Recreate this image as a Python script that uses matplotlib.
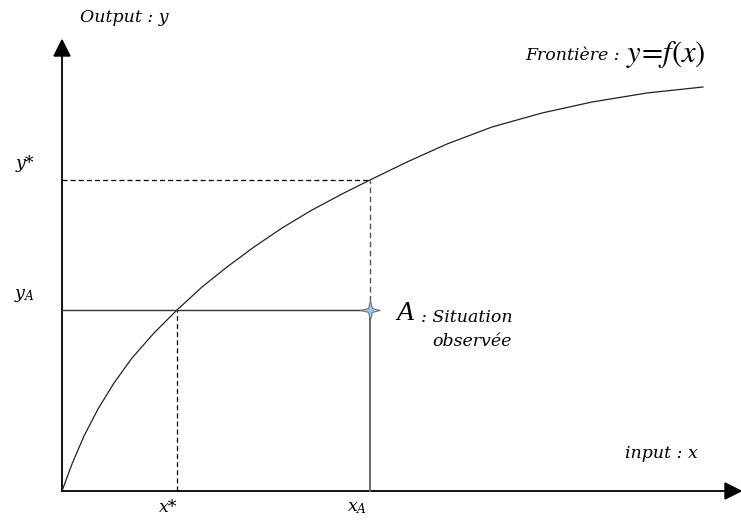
import matplotlib.pyplot as plt
from matplotlib.path import Path

# frontier y = f(x) (units = pixels from origin)
front_x = [0, 10, 22, 36, 52, 70, 92, 115, 140, 165, 192, 220, 250, 280,
           308, 345, 385, 430, 480, 530, 585, 641]
front_y = [0, 27, 55, 82, 108, 133, 158, 181, 204, 224, 244, 263, 281, 297,
           311, 329, 347, 364, 378, 389, 398, 404]

# key values
x_star, x_A = 115, 308
y_A, y_star = 181, 311
x_end, y_end = 679, 451

serif = "DejaVu Serif"
fs = 12.5

fig = plt.figure(figsize=(7.41, 5.21), dpi=100)
ax = fig.add_axes([0, 0, 1, 1])
ax.set_xlim(-62, 679)
ax.set_ylim(-30, 491)
ax.axis("off")

# axes with arrows
ax.plot([0, x_end - 14], [0, 0], color="black", lw=1.3)
ax.plot([0, 0], [0, y_end - 14], color="black", lw=1.3)
ax.fill([x_end - 16, x_end - 16, x_end], [-8, 8, 0], color="black")
ax.fill([-8, 8, 0], [y_end - 16, y_end - 16, y_end], color="black")

# frontier
ax.plot(front_x, front_y, color="#222222", lw=0.9)

# guide lines
ax.plot([0, x_A], [y_star, y_star], color="black", lw=0.9, ls=(0, (4, 2.5)))
ax.plot([x_A, x_A], [y_A, y_star], color="#555555", lw=1.0, ls=(0, (4, 2.5)))
ax.plot([x_star, x_star], [0, y_A], color="black", lw=0.9, ls=(0, (4, 2.5)))
ax.plot([0, x_A], [y_A, y_A], color="#333333", lw=1.0)
ax.plot([x_A, x_A], [0, y_A], color="#666666", lw=1.4)

# observed point A
star = Path([(0, 1), (0.2, 0.2), (1, 0), (0.2, -0.2), (0, -1),
             (-0.2, -0.2), (-1, 0), (-0.2, 0.2), (0, 1)])
ax.plot([x_A], [y_A], marker=star, ms=14, color="#9cc8ef",
        markeredgecolor="#777777", markeredgewidth=0.8)

# text
ax.text(62, 473, "Output : y", family=serif, style="italic", fontsize=fs,
        ha="center", va="center")
ax.text(558, 436, "Frontière :", family=serif, style="italic", fontsize=fs,
        ha="right", va="center")
ax.text(564, 437, r"$y\!=\!f(x)$", fontsize=22, ha="left", va="center",
        math_fontfamily="stix")
ax.text(-37, 328, "y*", family=serif, style="italic", fontsize=fs,
        ha="center", va="center")
ax.text(-38, 196, r"y$_A$", family=serif, style="italic", fontsize=fs,
        ha="center", va="center", math_fontfamily="dejavuserif")
ax.text(106, -17, "x*", family=serif, style="italic", fontsize=fs,
        ha="center", va="center")
ax.text(295, -17, r"x$_A$", family=serif, style="italic", fontsize=fs,
        ha="center", va="center", math_fontfamily="dejavuserif")
ax.text(599, 38, "input : x", family=serif, style="italic", fontsize=fs,
        ha="center", va="center")
ax.text(335, y_A - 3, "A", family="Liberation Serif", style="italic", fontsize=20,
        ha="left", va="center")
ax.text(359, y_A - 7, ": Situation", family=serif, style="italic",
        fontsize=fs, ha="left", va="center")
ax.text(370, y_A - 32, "observée", family=serif, style="italic",
        fontsize=fs, ha="left", va="center")

fig.savefig("out.png", dpi=100)
